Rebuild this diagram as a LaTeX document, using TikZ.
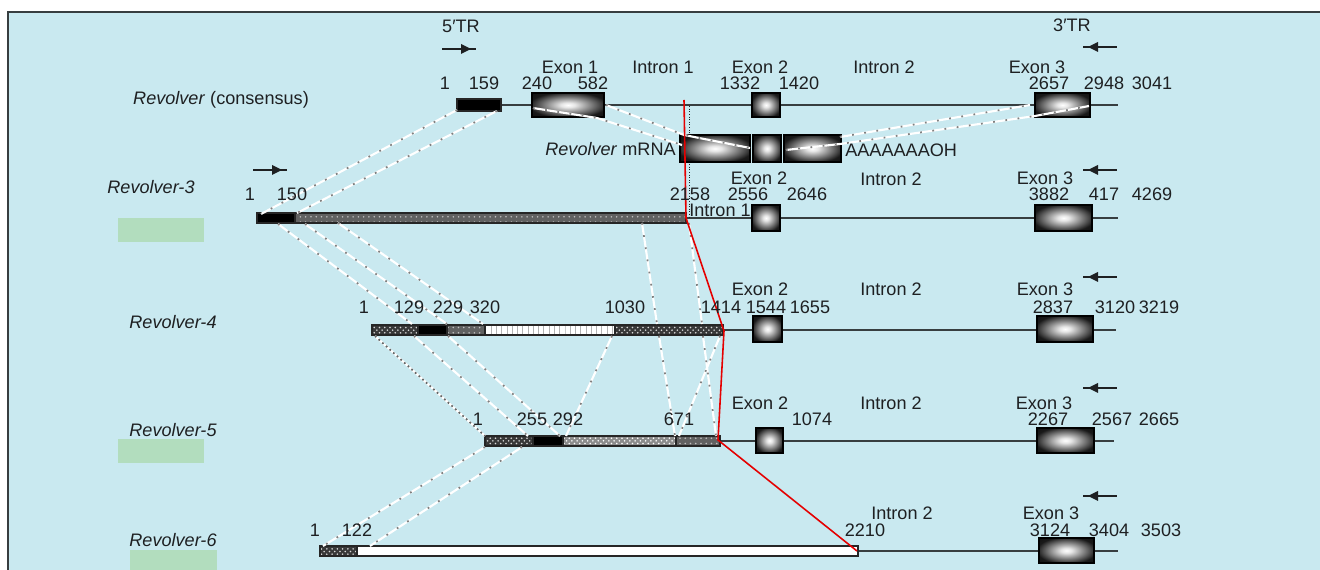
\documentclass[tikz,border=0pt]{standalone}
\usepackage{fontspec}
\setmainfont{Liberation Sans}
\usetikzlibrary{patterns}
\definecolor{sky}{RGB}{201,233,240}
\definecolor{mint}{RGB}{178,221,190}
\definecolor{ink}{RGB}{30,32,34}
\definecolor{rule}{RGB}{55,62,64}
\pgfdeclareradialshading{exonglow}{\pgfpoint{0bp}{0bp}}{color(0bp)=(white); color(5bp)=(white!90!black); color(27bp)=(black!90); color(50bp)=(black)}
\tikzset{
  num/.style={inner sep=0pt,text=ink},
  gname/.style={inner sep=0pt,text=ink,font=\fontsize{10.3}{12}\selectfont\itshape},
  gline/.style={draw=rule,line width=1.3pt},
  exon/.style={draw=black,line width=0.6pt,shading=exonglow},
  seg/.style={draw=black!85,line width=0.6pt,fill=#1},
  seg/.default=black,
  chk/.style={seg=black!78,postaction={pattern=crosshatch dots,pattern color=white!85!black,draw=black!85,line width=0.6pt}},
  wchk/.style={seg=black!45,postaction={pattern=crosshatch dots,pattern color=white,draw=black!85,line width=0.6pt}},
  fine/.style={seg=black!62,postaction={pattern=dots,pattern color=white!75!black,draw=black!85,line width=0.6pt}},
  wdash/.style={seg=white,postaction={pattern=vertical lines,pattern color=black!30,draw=black!85,line width=0.6pt}},
  aln/.style={draw=white,line width=1.2pt,postaction={draw=black!50,line width=1pt,dash pattern=on 1pt off 6pt}},
  alnd/.style={draw=white,line width=1.2pt,postaction={draw=black!60,line width=1pt,dash pattern=on 1pt off 1.8pt}},
  splice/.style={draw=red!90!black,line width=0.9pt},
  box/.style={fill=mint},
  % small orientation mark of the terminal repeats
  pics/trmark/.style={code={
    \draw[ink,line width=1.4pt] (-17,0) -- (17,0);
    \fill[ink] (#1*2,-5) -- (#1*12,0) -- (#1*2,5) -- cycle;
  }},
  pics/trmark/.default=1,
}

\begin{document}
\begin{tikzpicture}[x=0.02cm,y=-0.02cm,font=\fontsize{10.3}{12}\selectfont]
  \useasboundingbox (0,0) rectangle (1320,570);
  \fill[sky] (8,12) rectangle (1320,570);
  \draw[rule,line width=1.1pt] (8,570) -- (8,12) -- (1320,12);

  % gene axes
  \foreach \a/\b/\y in {457/1118/105,686/1118/218,723/1116/330,720/1114/441,858/1118/551}
    \draw[gline] (\a,\y) -- (\b,\y);
  \draw[ink,densely dotted,line width=0.5pt] (689,106) -- (689,217);

  % exons and mRNA
  \foreach \a/\b/\p/\q in {532/604/93/117,752/780/93/117,1035/1090/93/117,
      680/750/135/162,753/781/135/162,784/841/135/162,
      752/780/205/231,1035/1092/205/231,753/782/316/342,1037/1093/316/342,
      756/783/428/453,1037/1094/428/453,1039/1094/538/563}
    \path[exon] (\a,\p) rectangle (\b,\q);

  % repeat segments
  \path[seg] (457,99) rectangle (501,111);
  \path[seg] (257,213) rectangle (295,223);
  \path[fine] (295,213) rectangle (686,223);
  \path[chk] (372,325) rectangle (418,335);
  \path[seg] (418,325) rectangle (447,335);
  \path[fine] (447,325) rectangle (485,335);
  \path[wdash] (485,325) rectangle (615,335);
  \path[chk] (615,325) rectangle (723,335);
  \path[chk] (485,436) rectangle (533,446);
  \path[seg] (533,436) rectangle (563,446);
  \path[wchk] (563,436) rectangle (676,446);
  \path[fine] (676,436) rectangle (720,446);
  \path[chk] (320,546) rectangle (357,556);
  \path[seg=white] (357,546) rectangle (858,556);

  % alignments
  \foreach \a/\b/\c/\d in {457/110/261/214,497/111/297/213,
      278/224/412/324,305/224/447/324,338/223/483/324,642/223/657/324,689/223/702/324,
      414/336/528/436,448/336/560/436,612/336/566/436,659/336/675/436,703/336/716/436,720/336/679/436,
      485/447/323/546,522/447/370/546,840/137/1030/105}
    \draw[aln] (\a,\b) -- (\c,\d);
  \draw[alnd] (375,336) -- (485,436);
  \draw[aln] (533,108) -- (597,118) -- (682,145);
  \draw[aln] (606,105) -- (684,135) -- (750,148);
  \draw[aln] (786,150) -- (840,144) -- (1035,116) -- (1089,106);

  % breakpoint
  \draw[splice] (684,100) -- (686,218) -- (724,331) -- (718,440) -- (857,551);

  % terminal repeats
  \node[num] (tr5) at (461,26) {5′TR};
  \node[num] (tr3) at (1072,25) {3′TR};
  \pic at (459,49) {trmark};
  \pic at (270,170) {trmark};
  \foreach \y in {47,170,277,388,496} \pic at (1100,\y) {trmark=-1};

  % names
  \node[num] (gcons) at (221,100) {\textit{Revolver} (consensus)};
  \node[num,anchor=east] (gmrna) at (676,149) {\textit{Revolver} mRNA};
  \node[num,anchor=west] (polya) at (845,150) {AAAAAAAOH};
  \foreach \x/\y/\n in {151/187/3,173/322/4,173/430/5,173/540/6}
    \node[gname] (g\n) at (\x,\y) {Revolver-\n};
  \foreach \a/\p/\b/\q [count=\i] in {118/218/204/242,118/439/204/463,130/550/217/575}
    \fill[box] (\a,\p) rectangle (\b,\q);

  % exon and intron titles
  \foreach \x/\y/\s [count=\i] in {570/67/Exon 1,663/67/Intron 1,760/67/Exon 2,884/67/Intron 2,1037/67/Exon 3,
      759/178/Exon 2,891/179/Intron 2,1045/178/Exon 3,720/210/Intron 1,
      760/289/Exon 2,891/289/Intron 2,1045/289/Exon 3,
      760/403/Exon 2,891/403/Intron 2,1044/403/Exon 3,
      902/513/Intron 2,1051/513/Exon 3}
    \node[num] (ti\i) at (\x,\y) {\s};

  % positions
  \foreach \x/\y/\s [count=\i] in {445/83/1,484/83/159,537/83/240,593/83/582,740/83/1332,799/83/1420,
      1049/83/2657,1104/83/2948,1152/83/3041,
      250/194/1,292/194/150,690/194/2158,748/194/2556,807/194/2646,1049/194/3882,1104/194/417,1152/194/4269,
      364/307/1,409/307/129,448/307/229,485/307/320,625/307/1030,721/307/1414,766/307/1544,810/307/1655,
      1053/307/2837,1115/307/3120,1159/307/3219,
      478/419/1,532/419/255,568/419/292,679/419/671,812/419/1074,1048/419/2267,1112/419/2567,1159/419/2665,
      315/530/1,357/530/122,865/530/2210,1050/530/3124,1109/530/3404,1161/530/3503}
    \node[num] (p\i) at (\x,\y) {\s};
\end{tikzpicture}
\end{document}
